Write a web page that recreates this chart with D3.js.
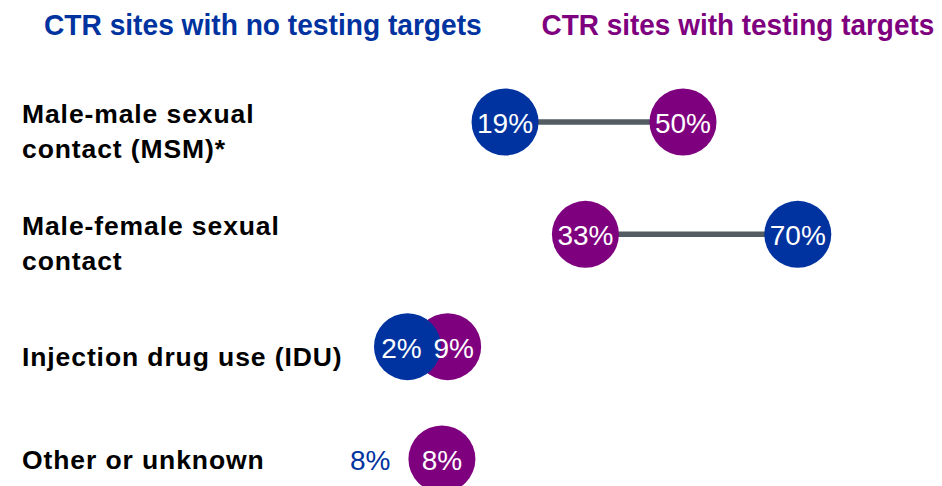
<!DOCTYPE html>
<html lang="en">
  <head>
    <meta charset="UTF-8" />
    <title>CTR sites testing targets</title>
    <script src="https://cdn.jsdelivr.net/npm/d3@7"></script>
    <style>
      body {
        margin: 0;
        background: #fff;
      }
      .title {
        font-family: "Liberation Sans", Arial, sans-serif;
        font-weight: bold;
        font-size: 29px;
      }
      .cat {
        font-family: "Liberation Sans", Arial, sans-serif;
        font-weight: bold;
        font-size: 26.5px;
        letter-spacing: 0.9px;
        fill: #000;
      }
      .pct {
        font-family: "Liberation Sans", Arial, sans-serif;
        font-size: 28px;
      }
    </style>
  </head>
  <body>
    <script>
      var w = 942;
      var h = 486;

      var categories = ["MSM", "MF", "IDU", "Other"];
      var catLabels = [
        ["Male-male sexual", "contact (MSM)*"],
        ["Male-female sexual", "contact"],
        ["Injection drug use (IDU)"],
        ["Other or unknown"]
      ];
      var noTargets = [19, 70, 2, 8];
      var withTargets = [50, 33, 9, 8];
      var seriesNames = ["CTR sites with no testing targets", "CTR sites with testing targets"];

      var blue = "#0033a0";
      var purple = "#7f007f";
      var r = 33.5;

      var svg = d3.select("body")
                  .append("svg")
                  .attr("width", w)
                  .attr("height", h);

      var xScale = d3.scaleLinear()
                     .domain([0, 100])
                     .range([396, 970]);

      var yScale = d3.scalePoint()
                     .domain(categories)
                     .range([122, 459]);

      var data = categories.map(function(c, i) {
        return {cat: c, label: catLabels[i], a: noTargets[i], b: withTargets[i]};
      });

      // small push apart for labels when dots overlap
      var nudge = function(d) {
        var gap = xScale(d.b) - xScale(d.a);
        if (d.a == d.b || Math.abs(gap) >= 2 * r) return 0;
        return gap > 0 ? 6 : -6;
      };

      // titles, squeezed horizontally to look condensed
      var titles = [
        {text: seriesNames[0], x: 44, width: 438, color: blue},
        {text: seriesNames[1], x: 541.5, width: 393, color: purple}
      ];
      titles.forEach(function(t) {
        var g = svg.append("g");
        var txt = g.append("text")
                   .attr("class", "title")
                   .attr("fill", t.color)
                   .text(t.text);
        var natural = txt.node().getComputedTextLength();
        g.attr("transform", "translate(" + t.x + ", 35) scale(" + (t.width / natural) + ", 1)");
      });

      // category labels, first line sits level with the dots
      var labels = svg.selectAll(".cat")
         .data(data)
         .enter()
         .append("text")
         .attr("class", "cat")
         .attr("x", 22)
         .attr("y", function(d) {
           return d.label.length > 1 ? yScale(d.cat) + 0.5 : yScale(d.cat) + 10 + (d.cat == "IDU" ? 9 : 0);
         });
      labels.selectAll("tspan")
         .data(function(d) { return d.label; })
         .enter()
         .append("tspan")
         .attr("x", 22)
         .attr("dy", function(d, i) { return i == 0 ? 0 : 35.5; })
         .text(function(d) { return d; });

      // connecting lines
      svg.selectAll(".link")
         .data(data)
         .enter()
         .append("line")
         .attr("class", "link")
         .attr("x1", function(d) { return xScale(d.a); })
         .attr("x2", function(d) { return xScale(d.b); })
         .attr("y1", function(d) { return yScale(d.cat); })
         .attr("y2", function(d) { return yScale(d.cat); })
         .attr("stroke", "#535c63")
         .attr("stroke-width", 5.5);

      // purple dots underneath, blue on top
      svg.selectAll(".dotB")
         .data(data)
         .enter()
         .append("circle")
         .attr("class", "dotB")
         .attr("cx", function(d) { return xScale(d.b); })
         .attr("cy", function(d) { return yScale(d.cat); })
         .attr("r", r)
         .attr("fill", purple);

      svg.selectAll(".dotA")
         .data(data.filter(function(d) { return d.a != d.b; }))
         .enter()
         .append("circle")
         .attr("class", "dotA")
         .attr("cx", function(d) { return xScale(d.a); })
         .attr("cy", function(d) { return yScale(d.cat); })
         .attr("r", r)
         .attr("fill", blue);

      svg.selectAll(".pctB")
         .data(data)
         .enter()
         .append("text")
         .attr("class", "pct")
         .attr("x", function(d) { return xScale(d.b) + nudge(d); })
         .attr("y", function(d) { return yScale(d.cat) + 11; })
         .attr("text-anchor", "middle")
         .attr("fill", "#fff")
         .text(function(d) { return d.b + "%"; });

      // when both values match, the blue label moves outside to the left
      svg.selectAll(".pctA")
         .data(data)
         .enter()
         .append("text")
         .attr("class", "pct")
         .attr("x", function(d) {
           return d.a == d.b ? xScale(d.a) - r - 18 : xScale(d.a) - nudge(d);
         })
         .attr("y", function(d) { return yScale(d.cat) + 11; })
         .attr("text-anchor", function(d) { return d.a == d.b ? "end" : "middle"; })
         .attr("fill", function(d) { return d.a == d.b ? blue : "#fff"; })
         .text(function(d) { return d.a + "%"; });
    </script>
  </body>
</html>
